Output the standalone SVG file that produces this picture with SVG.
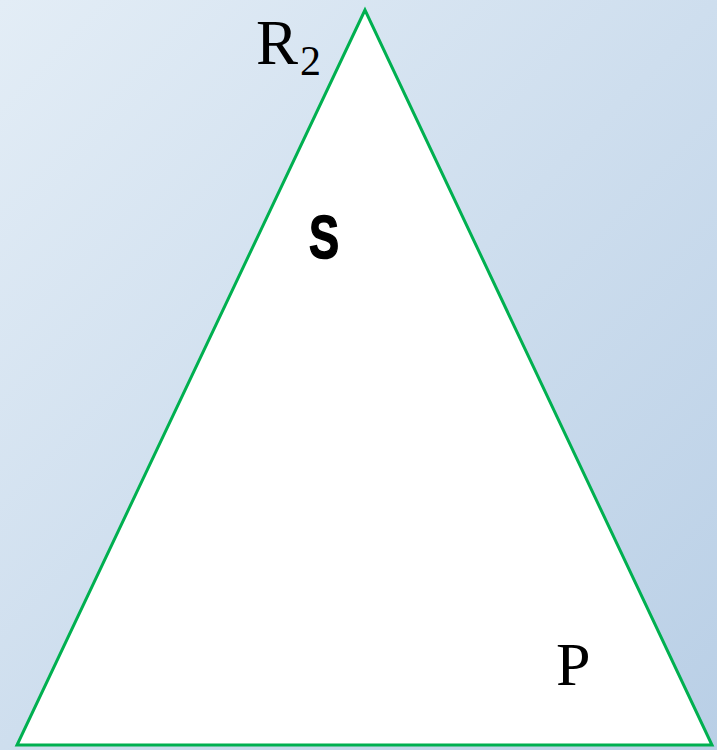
<svg xmlns="http://www.w3.org/2000/svg" width="717" height="750" viewBox="0 0 717 750">
<defs>
<linearGradient id="bg" x1="0" y1="0" x2="1" y2="1">
<stop offset="0" stop-color="#e3edf6"/>
<stop offset="1" stop-color="#b9cfe6"/>
</linearGradient>
<style>
.serif{font-family:"Liberation Serif","Times New Roman",serif;fill:#000}
.tri{fill:#fff;stroke:#00b050;stroke-width:3;stroke-linejoin:miter}
</style>
</defs>
<rect width="717" height="750" fill="url(#bg)"/>
<g id="triangle">
<polygon class="tri" points="365,10 17,745 712,745"/>
</g>
<g id="label-R2">
<text class="serif" x="256" y="64" font-size="63">R</text>
<text class="serif" x="300" y="75" font-size="42">2</text>
</g>
<g id="label-S">
<text x="0" y="0" transform="translate(309,258) scale(0.74,1)" font-family="Liberation Sans,Arial,sans-serif" font-weight="bold" font-size="61" stroke="#000" stroke-width="1.5">S</text>
</g>
<g id="label-P">
<text class="serif" x="556" y="685" font-size="62">P</text>
</g>
</svg>
